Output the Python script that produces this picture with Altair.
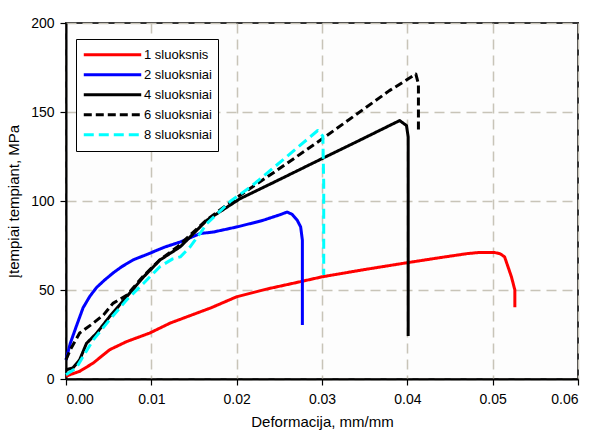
import altair as alt
import pandas as pd

# ---- data ----
s1_x = [0, 0.0005, 0.0016, 0.0032, 0.0051, 0.0071, 0.0098, 0.0122, 0.0142, 0.017, 0.02, 0.0235,
        0.0275, 0.030, 0.035, 0.0402, 0.044, 0.0471, 0.0485, 0.0502, 0.0509, 0.0514, 0.0518,
        0.0522, 0.0526, 0.0526]
s1_y = [1.5, 2.5, 4.3, 9, 16.4, 21, 25.8, 31.4, 35, 40, 46.2, 50.5,
        54.7, 57.4, 61.5, 65.5, 68.3, 70.5, 71.1, 71.1, 70.3, 68.6, 63,
        57.4, 50, 40.3]

s2_x = [0, 0.0005, 0.0012, 0.002, 0.0028, 0.0036, 0.0045, 0.0055, 0.0065, 0.0079, 0.0095,
        0.0115, 0.0134, 0.0157, 0.0173, 0.02, 0.023, 0.0252, 0.0259, 0.0265, 0.0271, 0.0275,
        0.0277, 0.0277, 0.0277]
s2_y = [10.8, 20, 29.5, 40, 46.5, 51.5, 55.5, 59.5, 63, 67, 70,
        74, 77, 81.7, 82.6, 85.4, 89, 92.5, 93.8, 92.5, 89.2, 85.4,
        78, 50, 30.4]

s4_x = [0, 0.0008, 0.0016, 0.0024, 0.0036, 0.0051, 0.0071, 0.0091, 0.011, 0.0134, 0.0165,
        0.0204, 0.0244, 0.030, 0.035, 0.0391, 0.0399, 0.0401, 0.0401, 0.0401]
s4_y = [5.2, 6.2, 10.8, 20, 25.8, 35, 46.2, 57.4, 66.8, 74.3, 89.2,
        101.3, 110.6, 123.8, 135.5, 145.2, 142.4, 136, 80, 24.2]

s6_x = [0, 0.0005, 0.0016, 0.0032, 0.0044, 0.0055, 0.0071, 0.0091, 0.011, 0.013, 0.0165,
        0.0204, 0.0244, 0.030, 0.0379, 0.041, 0.0413, 0.0413]
s6_y = [10.8, 16.4, 25.8, 31.4, 36, 42.5, 47, 58, 67, 74, 89.5,
        103.2, 116.2, 134.8, 162, 171.3, 165.7, 139.6]

s8_x = [0, 0.0012, 0.002, 0.0032, 0.0051, 0.0071, 0.0091, 0.011, 0.0125, 0.0134, 0.0145,
        0.0157, 0.0165, 0.0193, 0.0216, 0.0244, 0.0295, 0.0301, 0.0302, 0.0302]
s8_y = [2.4, 6.2, 12.6, 22, 33.2, 44.4, 53.8, 63.1, 67.5, 68.6, 74,
        81.7, 87.3, 100, 107.8, 119, 139.6, 136.5, 110, 58.4]

names = ["1 sluoksnis", "2 sluoksniai", "4 sluoksniai", "6 sluoksniai", "8 sluoksniai"]
colors = ["#ff0000", "#0000ff", "#000000", "#000000", "#00ffff"]
dashes = [[1, 0], [1, 0], [1, 0], [8, 4], [10, 5]]

rows = []
for name, xs, ys in zip(names, [s1_x, s2_x, s4_x, s6_x, s8_x], [s1_y, s2_y, s4_y, s6_y, s8_y]):
    for i, (xv, yv) in enumerate(zip(xs, ys)):
        rows.append({"series": name, "x": xv, "y": yv, "i": i})
df = pd.DataFrame(rows)

FONT = "Liberation Sans"

leg = alt.Legend(title=None, orient="none", legendX=10, legendY=16)

chart = alt.Chart(df).mark_line(strokeWidth=3, strokeCap="butt", strokeJoin="round").encode(
    x=alt.X("x:Q", title="Deformacija, mm/mm",
            scale=alt.Scale(domain=[0, 0.06], nice=False),
            axis=alt.Axis(values=[0, 0.01, 0.02, 0.03, 0.04, 0.05, 0.06], format=".2f",
                          labelPadding=7, titlePadding=8)),
    y=alt.Y("y:Q", title="Įtempiai tempiant, MPa",
            scale=alt.Scale(domain=[0, 200], nice=False),
            axis=alt.Axis(values=[0, 50, 100, 150, 200], labelPadding=6, titlePadding=9)),
    color=alt.Color("series:N", scale=alt.Scale(domain=names, range=colors), legend=leg),
    strokeDash=alt.StrokeDash("series:N", scale=alt.Scale(domain=names, range=dashes), legend=leg),
    order="i:Q",
).properties(
    width=512, height=356,
    autosize=alt.AutoSizeParams(type="none"),
    padding={"left": 66, "top": 23, "right": 15, "bottom": 52},
    background="white",
).configure_view(
    stroke="#333333", strokeWidth=2, fill="#fdfdfd",
).configure_axis(
    grid=True, gridColor="#c8c4b8", gridDash=[10, 6], gridWidth=1.5,
    domainColor="#000000", domainWidth=2,
    tickColor="#000000", tickSize=6, tickWidth=1.2,
    labelFont=FONT, labelFontSize=14, labelColor="#000000",
    titleFont=FONT, titleFontSize=15, titleFontWeight="normal", titleColor="#000000",
).configure_legend(
    strokeColor="#000000", fillColor="#ffffff", padding=6,
    labelFont=FONT, labelFontSize=13, labelColor="#000000",
    symbolType="stroke", symbolSize=3300, symbolStrokeWidth=3,
    clipHeight=19.5, rowPadding=0, labelOffset=1,
)

chart.save("out.html", embed_options={"renderer": "svg", "actions": False})
